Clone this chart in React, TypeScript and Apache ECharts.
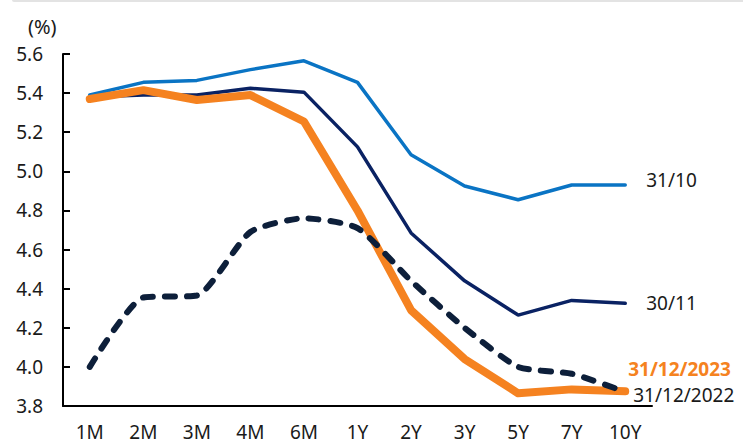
import React, { useEffect, useRef } from "react";
import * as echarts from "echarts";

const categories = ["1M", "2M", "3M", "4M", "6M", "1Y", "2Y", "3Y", "5Y", "7Y", "10Y"];
const yTicks = [3.8, 4.0, 4.2, 4.4, 4.6, 4.8, 5.0, 5.2, 5.4, 5.6];
const oct31 = [5.39, 5.455, 5.465, 5.52, 5.565, 5.455, 5.085, 4.925, 4.855, 4.93, 4.93];
const nov30 = [5.38, 5.39, 5.39, 5.425, 5.405, 5.125, 4.685, 4.44, 4.265, 4.34, 4.325];
const dec2023 = [5.37, 5.415, 5.365, 5.39, 5.255, 4.8, 4.29, 4.04, 3.865, 3.885, 3.875];
const dec2022 = [4.0, 4.355, 4.365, 4.69, 4.76, 4.71, 4.44, 4.2, 4.0, 3.965, 3.872];

const FONT = "Noto Sans";

export default function App() {
  const ref = useRef<HTMLDivElement>(null);
  useEffect(() => {
    document.body.style.margin = "0";
    const chart = echarts.init(ref.current!, null, { renderer: "svg" });
    const lbl = (text: string, color: string, dist: number, dy: number, bold = false) => ({
      show: true,
      formatter: text,
      color,
      fontFamily: FONT,
      fontSize: 19,
      fontWeight: bold ? "bold" : "normal",
      distance: dist,
      offset: [0, dy],
    });
    chart.setOption({
      animation: false,
      backgroundColor: "#ffffff",
      textStyle: { fontFamily: FONT },
      grid: { left: 63, right: 91, top: 54, bottom: 39, containLabel: false },
      graphic: [
        { type: "rect", shape: { x: 12, y: -2, width: 740, height: 4, r: 2 }, style: { fill: "#e3e3e3" } },
        {
          type: "text",
          left: 28,
          top: 16,
          style: { text: "(%)", fontFamily: FONT, fontSize: 20, fill: "#1a1a1a" },
        },
      ],
      xAxis: {
        type: "category",
        data: categories,
        boundaryGap: true,
        axisLine: { lineStyle: { color: "#000", width: 2 } },
        axisTick: { inside: true, length: 7, interval: 0, lineStyle: { color: "#000", width: 2 } },
        axisLabel: { color: "#1a1a1a", fontSize: 19, fontFamily: FONT, margin: 16, interval: 0 },
        splitLine: { show: false },
      },
      yAxis: {
        type: "value",
        min: yTicks[0],
        max: yTicks[yTicks.length - 1],
        interval: 0.2,
        axisLine: { show: true, lineStyle: { color: "#000", width: 2 } },
        axisTick: { show: true, inside: true, length: 7, lineStyle: { color: "#000", width: 2 } },
        axisLabel: {
          color: "#1a1a1a",
          fontSize: 19,
          fontFamily: FONT,
          margin: 20,
          formatter: (v: number) => v.toFixed(1),
        },
        splitLine: { show: false },
      },
      series: [
        {
          name: "31/12/2022",
          type: "line",
          data: dec2022,
          symbol: "none",
          smooth: 0.2,
          z: 5,
          lineStyle: { color: "#0d1f3a", width: 6, type: [10, 12], cap: "round" },
          endLabel: lbl("31/12/2022", "#1a1a1a", 8, 3),
        },
        {
          name: "31/12/2023",
          type: "line",
          data: dec2023,
          symbol: "none",
          z: 4,
          lineStyle: { color: "#f58220", width: 8, cap: "round", join: "round" },
          endLabel: lbl("31/12/2023", "#f58220", 3, -22, true),
        },
        {
          name: "30/11",
          type: "line",
          data: nov30,
          symbol: "none",
          z: 3,
          lineStyle: { color: "#0a2263", width: 3.5, cap: "round" },
          endLabel: lbl("30/11", "#1a1a1a", 21, 0),
        },
        {
          name: "31/10",
          type: "line",
          data: oct31,
          symbol: "none",
          z: 3,
          lineStyle: { color: "#0a74c4", width: 3.5, cap: "round" },
          endLabel: lbl("31/10", "#1a1a1a", 21, -5),
        },
      ],
    });
    return () => chart.dispose();
  }, []);
  return <div ref={ref} style={{ width: 743, height: 445 }} />;
}
